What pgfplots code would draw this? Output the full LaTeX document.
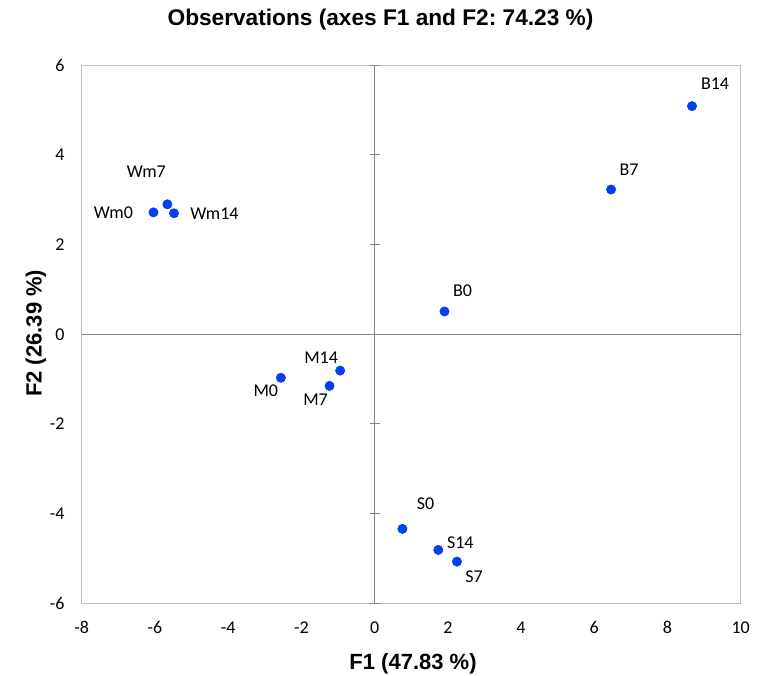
\documentclass[border=0pt]{standalone}
\usepackage{pgfplots}
\pgfplotsset{compat=1.18}
\usepackage{pgfplotstable}
\usepackage{fontspec}
\setmainfont{Carlito}
\newfontfamily\arialf{Liberation Sans}
\frenchspacing

\definecolor{dotblue}{RGB}{0,64,240}
\definecolor{boxgray}{RGB}{191,191,191}
\definecolor{midgray}{RGB}{134,134,134}

% PCA scores, label offsets dx/dy in pt
\pgfplotstableread{
x      y      label dx    dy
-6.04  2.72   Wm0   -30   0
-5.66  2.90   Wm7   -15.8 24.5
-5.48  2.70   Wm14  30.4  0
1.91   0.51   B0    13.5  15.8
6.46   3.23   B7    13.5  15
8.67   5.09   B14   17.3  16.5
-2.56  -0.97  M0    -11.3 -9.8
-1.23  -1.15  M7    -10.5 -10.5
-0.94  -0.81  M14   -14.3 9.8
0.76   -4.34  S0    17.3  18.8
2.25   -5.07  S7    12.8  -11.3
1.74   -4.81  S14   16.5  5.3
}\obs

\begin{document}
\begin{tikzpicture}
\useasboundingbox (-61.3pt,-54.5pt) rectangle (510.25pt,452.5pt);
\begin{axis}[
  at={(0,0)}, anchor=south west,
  scale only axis,
  width=494.25pt, height=403.5pt,
  xmin=-8, xmax=10, ymin=-6, ymax=6,
  xtick={-8,-6,...,10}, ytick={-6,-4,...,6},
  axis line style={draw=boxgray, line width=0.75pt},
  major tick length=0pt, tick style={draw=none},
  /pgf/number format/assume math mode=true,
  tick label style={font=\fontsize{13.5}{16}\selectfont},
  xticklabel style={anchor=center, yshift=-18.3pt},
  yticklabel style={anchor=east, inner sep=0pt, xshift=-12.8pt},
  clip=false,
]
\draw[midgray, line width=0.75pt] (axis cs:0,-6) -- (axis cs:0,6);
\draw[midgray, line width=0.75pt] (axis cs:-8,0) -- (axis cs:10,0);
\pgfplotsinvokeforeach{-6,-4,-2,0,2,4,6}{
  \draw[midgray, line width=0.75pt] ([xshift=-3.75pt]axis cs:0,#1) -- ([xshift=3.75pt]axis cs:0,#1);
}
\addplot[only marks, mark=*, mark size=3.5pt, color=dotblue,
  visualization depends on={\thisrow{dx}\as\dx},
  visualization depends on={\thisrow{dy}\as\dy},
  point meta=explicit symbolic,
  nodes near coords,
  nodes near coords style={anchor=center, xshift=\dx pt, yshift=\dy pt,
    text=black, font=\fontsize{13.5}{16}\selectfont}]
  table[x=x, y=y, meta=label]{\obs};
\end{axis}
\node[anchor=base, font=\arialf\bfseries\fontsize{17}{20}\selectfont] at (224.1pt,433pt)
  {Observations (axes F1 and F2: 74.23 \%)};
\node[anchor=base, font=\arialf\bfseries\fontsize{16.5}{20}\selectfont] at (248.5pt,-50pt)
  {F1 (47.83 \%)};
\node[anchor=base, rotate=90, font=\arialf\bfseries\fontsize{16.5}{20}\selectfont] at (-30pt,202.5pt)
  {F2 (26.39 \%)};
\end{tikzpicture}
\end{document}
